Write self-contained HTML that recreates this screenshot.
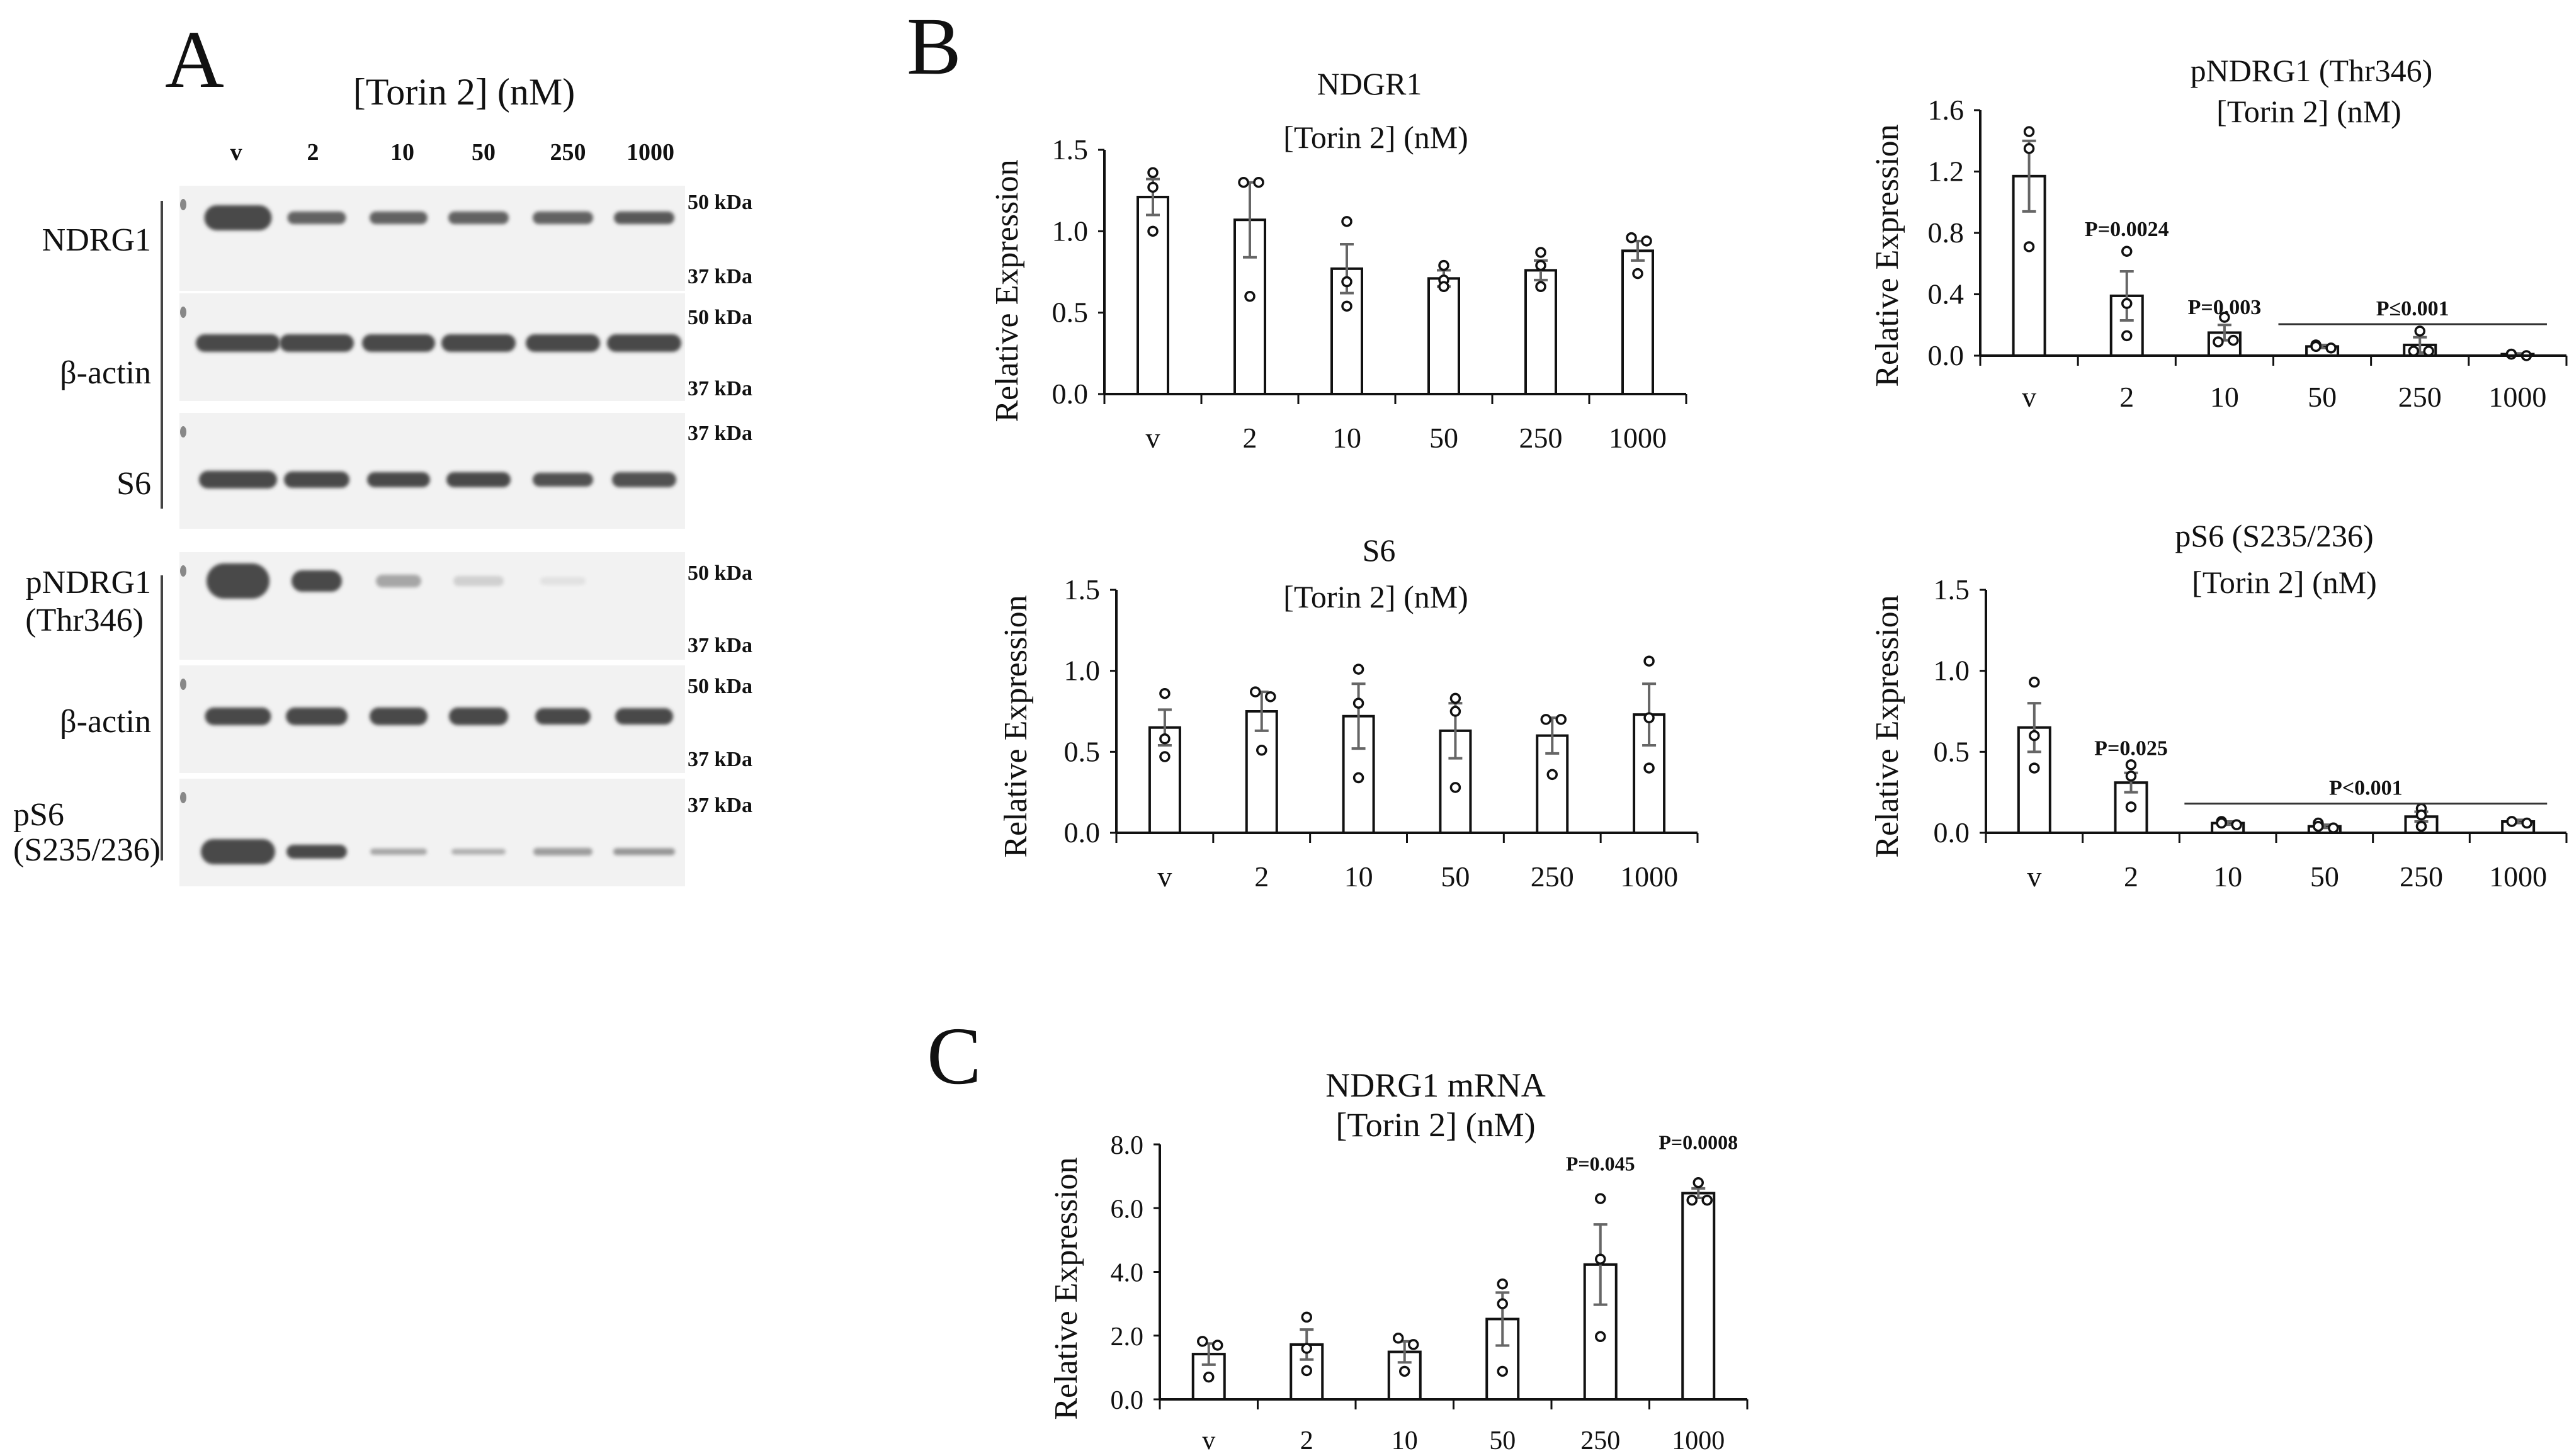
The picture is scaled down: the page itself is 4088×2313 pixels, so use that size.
<!DOCTYPE html>
<html><head><meta charset="utf-8">
<style>
html,body{margin:0;padding:0;background:#fff;}
svg{display:block;}
text{font-family:"Liberation Serif",serif;fill:#111;}
</style></head>
<body>
<svg id="fig" width="4088" height="2313" viewBox="0 0 4088 2313" xmlns="http://www.w3.org/2000/svg">
<defs><filter id="blur" x="-20%" y="-60%" width="140%" height="220%"><feGaussianBlur stdDeviation="3"/></filter></defs>
<rect width="4088" height="2313" fill="#fff"/>
<g id="panelA">
<text x="262" y="138" font-size="130">A</text>
<text x="737" y="166" font-size="60" text-anchor="middle">[Torin 2] (nM)</text>
<g font-size="38" font-weight="bold" text-anchor="middle">
<text x="375" y="254">v</text><text x="497" y="254">2</text><text x="639" y="254">10</text><text x="768" y="254">50</text><text x="902" y="254">250</text><text x="1033" y="254">1000</text>
</g>
<g id="blots"></g>
<g font-size="52" text-anchor="end">
<text x="240" y="398">NDRG1</text>
<text x="240" y="609">β-actin</text>
<text x="240" y="785">S6</text>
<text x="240" y="942">pNDRG1</text>
<text x="228" y="1002">(Thr346)</text>
<text x="240" y="1163">β-actin</text>
<text x="21" y="1311" text-anchor="start">pS6</text>
<text x="21" y="1367" text-anchor="start">(S235/236)</text>
</g>
<line x1="257" y1="319" x2="257" y2="808" stroke="#444" stroke-width="4"/>
<line x1="257" y1="914" x2="257" y2="1367" stroke="#444" stroke-width="4"/>
<g font-size="34" font-weight="bold">
<text x="1092" y="332">50 kDa</text><text x="1092" y="450">37 kDa</text>
<text x="1092" y="515">50 kDa</text><text x="1092" y="628">37 kDa</text>
<text x="1092" y="699">37 kDa</text>
<text x="1092" y="921">50 kDa</text><text x="1092" y="1036">37 kDa</text>
<text x="1092" y="1101">50 kDa</text><text x="1092" y="1217">37 kDa</text>
<text x="1092" y="1290">37 kDa</text>
</g>
</g>
<text x="1440" y="117" font-size="130">B</text>
<text x="1472" y="1721" font-size="130">C</text>
<g id="charts"></g>
</svg>
<script>
// ---------- chart data ----------
const categories = ['v','2','10','50','250','1000'];
const tickLabels15 = ['0.0','0.5','1.0','1.5'];
const tickValues15 = [0,0.5,1.0,1.5];
const tickLabels16 = ['0.0','0.4','0.8','1.2','1.6'];
const tickValues16 = [0,0.4,0.8,1.2,1.6];
const tickLabels8 = ['0.0','2.0','4.0','6.0','8.0'];
const tickValues8 = [0,2,4,6,8];

const ndrg1Means = [1.21,1.07,0.77,0.71,0.76,0.88];
const ndrg1Sems  = [0.11,0.23,0.15,0.05,0.06,0.06];
const ndrg1Points = [[1.36,1.27,1.00],[1.30,1.30,0.60],[1.06,0.69,0.54],[0.79,0.70,0.66],[0.87,0.79,0.66],[0.96,0.94,0.74]];

const s6Means = [0.65,0.75,0.72,0.63,0.60,0.73];
const s6Sems  = [0.11,0.12,0.20,0.17,0.11,0.19];
const s6Points = [[0.86,0.58,0.47],[0.87,0.84,0.51],[1.01,0.80,0.34],[0.83,0.75,0.28],[0.70,0.70,0.36],[1.06,0.71,0.40]];

const pndrg1Means = [1.17,0.39,0.15,0.06,0.07,0.01];
const pndrg1Sems  = [0.23,0.16,0.05,0.01,0.05,0.005];
const pndrg1Points = [[1.46,1.35,0.71],[0.68,0.34,0.13],[0.25,0.09,0.10],[0.07,0.06,0.05],[0.16,0.03,0.03],[0.01,0.01,0.00]];
const pndrg1Annot = [{cat:1,y:0.78,text:'P=0.0024'},{cat:2,y:0.27,text:'P=0.003'}];
const pndrg1Span = {from:3,to:5,y:0.205,text:'P≤0.001'};

const ps6Means = [0.65,0.31,0.06,0.04,0.10,0.07];
const ps6Sems  = [0.15,0.06,0.01,0.01,0.03,0.01];
const ps6Points = [[0.93,0.60,0.40],[0.42,0.35,0.16],[0.07,0.06,0.05],[0.06,0.04,0.03],[0.15,0.11,0.04],[0.07,0.07,0.06]];
const ps6Annot = [{cat:1,y:0.48,text:'P=0.025'}];
const ps6Span = {from:2,to:5,y:0.18,text:'P<0.001'};

const mrnaMeans = [1.42,1.72,1.49,2.52,4.23,6.47];
const mrnaSems  = [0.33,0.47,0.33,0.83,1.26,0.15];
const mrnaPoints = [[1.82,1.70,0.70],[2.58,1.60,0.90],[1.92,1.72,0.88],[3.62,3.00,0.88],[6.30,4.40,1.97],[6.80,6.25,6.25]];
const mrnaAnnot = [{cat:4,y:7.18,text:'P=0.045'},{cat:5,y:7.85,text:'P=0.0008'}];

// ---------- blot band intensities (relative darkness 0..1) ----------
const laneCenters = [378,503,633,760,894,1023];
const blotRows = [
 {name:'ndrg1-blot', y0:295,y1:462, bandY:346, h:[40,20,20,20,20,20], w:[107,93,92,96,96,96], dark:[1,0.85,0.85,0.85,0.85,0.9]},
 {name:'beta-actin-blot-1', y0:466,y1:637, bandY:545, h:[28,28,28,28,28,28], w:[134,118,116,118,118,118], dark:[1,1,1,1,1,1]},
 {name:'s6-blot', y0:656,y1:840, bandY:762, h:[28,26,24,24,22,24], w:[124,104,100,102,96,102], dark:[1,1,1,1,0.95,0.95]},
 {name:'pndrg1-blot', y0:877,y1:1048, bandY:923, h:[56,34,20,16,12,0], w:[100,80,72,80,72,0], dark:[1,1,0.45,0.2,0.1,0]},
 {name:'beta-actin-blot-2', y0:1057,y1:1228, bandY:1138, h:[28,28,28,28,26,26], w:[105,98,92,94,88,92], dark:[1,1,1,1,1,1]},
 {name:'ps6-blot', y0:1237,y1:1408, bandY:1353, h:[40,22,10,9,12,11], w:[118,96,90,86,94,98], dark:[1,1,0.45,0.4,0.5,0.55]}
];

const NS='http://www.w3.org/2000/svg';
function mk(tag, attrs, parent){
  const e=document.createElementNS(NS,tag);
  for(const k in attrs) e.setAttribute(k,attrs[k]);
  parent.appendChild(e); return e;
}

// blots
const blotG=document.getElementById('blots');
blotRows.forEach(row=>{
  const g=mk('g',{},blotG);
  
  
  mk('rect',{x:285,y:row.y0,width:803,height:row.y1-row.y0,fill:'#f2f2f2'},g);
  mk('ellipse',{cx:291,cy:row.y0+30,rx:5,ry:9,fill:'#888'},g);
  row.dark.forEach((d,i)=>{
    if(d<=0||row.h[i]<=0) return;
    const c=Math.round(242-(242-72)*d);
    const b=mk('rect',{x:laneCenters[i]-row.w[i]/2,y:row.bandY-row.h[i]/2,width:row.w[i],height:row.h[i],rx:row.h[i]/2,ry:row.h[i]/2,fill:`rgb(${c},${c},${c})`,filter:'url(#blur)'},g);
    
    
  });
});

// charts
const chartsG=document.getElementById('charts');
function chart(c){
  const g=mk('g',{},chartsG);
  
  
  const n=categories.length;
  const cw=(c.x1-c.x0)/n;
  const xs=i=>c.x0+cw*(i+0.5);
  const ys=v=>c.yb-(v/c.ymax)*(c.yb-c.yt);
  c.titles.forEach(t=>{
    const e=mk('text',{x:t.x,y:t.y,'font-size':c.tfs,'text-anchor':'middle'},g);
    e.textContent=t.text;
    
    
  });
  const yt=mk('text',{x:0,y:0,'font-size':c.yfs,'text-anchor':'middle',transform:`translate(${c.ytx},${c.yty}) rotate(-90)`,fill:'#333'},g);
  yt.textContent='Relative Expression';
  
  
  const ya=mk('line',{x1:c.x0,y1:c.yt,x2:c.x0,y2:c.yb,stroke:'#111','stroke-width':4},g);
  
  
  c.tickV.forEach((v,i)=>{
    mk('line',{x1:c.x0-10,y1:ys(v),x2:c.x0,y2:ys(v),stroke:'#111','stroke-width':3},g);
    const t=mk('text',{x:c.x0-26,y:ys(v)+15,'font-size':c.fs,'text-anchor':'end'},g);
    t.textContent=c.tickL[i];
    
    
  });
  c.means.forEach((m,i)=>{
    const b=mk('rect',{x:xs(i)-c.bw/2,y:ys(m),width:c.bw,height:c.yb-ys(m),fill:'#fff',stroke:'#111','stroke-width':4},g);
    
    
    const s=c.sems[i];
    if(s>0){
      const hi=ys(m+s), lo=ys(m-s);
      const eb=mk('path',{d:`M${xs(i)},${hi}V${lo}M${xs(i)-11},${hi}H${xs(i)+11}M${xs(i)-11},${lo}H${xs(i)+11}`,stroke:'#666','stroke-width':4,fill:'none'},g);
      
      
    }
    const pts=c.points[i];
    pts.forEach((p,j)=>{
      let off=0;
      for(let k=0;k<j;k++) if(Math.abs(pts[k]-p)<c.ymax*0.025){ off=14; }
      const dup=pts.some((q,k)=>k>j&&Math.abs(q-p)<c.ymax*0.025);
      if(dup) off=-10;
      const ci=mk('circle',{cx:xs(i)+off,cy:ys(p),r:7,fill:'#fff',stroke:'#111','stroke-width':3.5},g);
      
      
    });
  });
  const xa=mk('line',{x1:c.x0,y1:c.yb,x2:c.x1,y2:c.yb,stroke:'#111','stroke-width':4},g);
  
  
  for(let i=0;i<=n;i++) mk('line',{x1:c.x0+cw*i,y1:c.yb,x2:c.x0+cw*i,y2:c.yb+16,stroke:'#111','stroke-width':3},g);
  categories.forEach((cat,i)=>{
    const t=mk('text',{x:xs(i),y:c.xly,'font-size':c.fs,'text-anchor':'middle'},g);
    t.textContent=cat;
    
    
  });
  (c.annot||[]).forEach(a=>{
    const t=mk('text',{x:xs(a.cat),y:ys(a.y),'font-size':c.pfs,'font-weight':'bold','text-anchor':'middle'},g);
    t.textContent=a.text;
    
    
  });
  if(c.span){
    const sp=c.span;
    const xa0=xs(sp.from)-cw*0.5+8, xa1=xs(sp.to)+cw*0.3;
    const l=mk('line',{x1:xa0,y1:ys(sp.y),x2:xa1,y2:ys(sp.y),stroke:'#333','stroke-width':3},g);
    
    
    const t=mk('text',{x:(xa0+xa1)/2,y:ys(sp.y)-14,'font-size':c.pfs,'font-weight':'bold','text-anchor':'middle'},g);
    t.textContent=sp.text;
    
    
  }
}

chart({name:'ndrg1-chart',x0:1754,x1:2678,yb:626,yt:238,ymax:1.5,tickV:tickValues15,tickL:tickLabels15,
  means:ndrg1Means,sems:ndrg1Sems,points:ndrg1Points,bw:48,fs:46,tfs:50,yfs:52,pfs:34,
  titles:[{x:2175,y:150,text:'NDGR1'},{x:2185,y:235,text:'[Torin 2] (nM)'}],ytx:1616,yty:462,xly:711});
chart({name:'s6-chart',x0:1773,x1:2696,yb:1323,yt:937,ymax:1.5,tickV:tickValues15,tickL:tickLabels15,
  means:s6Means,sems:s6Sems,points:s6Points,bw:48,fs:46,tfs:50,yfs:52,pfs:34,
  titles:[{x:2190,y:891,text:'S6'},{x:2185,y:965,text:'[Torin 2] (nM)'}],ytx:1630,yty:1154,xly:1408});
chart({name:'pndrg1-chart',x0:3145,x1:4076,yb:565,yt:175,ymax:1.6,tickV:tickValues16,tickL:tickLabels16,
  means:pndrg1Means,sems:pndrg1Sems,points:pndrg1Points,bw:50,fs:46,tfs:50,yfs:52,pfs:34,
  titles:[{x:3671,y:129,text:'pNDRG1 (Thr346)'},{x:3667,y:194,text:'[Torin 2] (nM)'}],ytx:3014,yty:406,xly:646,
  annot:pndrg1Annot,span:pndrg1Span});
chart({name:'ps6-chart',x0:3154,x1:4076,yb:1323,yt:937,ymax:1.5,tickV:tickValues15,tickL:tickLabels15,
  means:ps6Means,sems:ps6Sems,points:ps6Points,bw:50,fs:46,tfs:50,yfs:52,pfs:34,
  titles:[{x:3612,y:868,text:'pS6 (S235/236)'},{x:3628,y:942,text:'[Torin 2] (nM)'}],ytx:3014,yty:1154,xly:1408,
  annot:ps6Annot,span:ps6Span});
chart({name:'ndrg1-mrna-chart',x0:1842,x1:2775,yb:2223,yt:1818,ymax:8,tickV:tickValues8,tickL:tickLabels8,
  means:mrnaMeans,sems:mrnaSems,points:mrnaPoints,bw:50,fs:42,tfs:54,yfs:52,pfs:32,
  titles:[{x:2280,y:1742,text:'NDRG1 mRNA'},{x:2280,y:1805,text:'[Torin 2] (nM)'}],ytx:1710,yty:2047,xly:2302,
  annot:mrnaAnnot});
</script>
</body></html>
